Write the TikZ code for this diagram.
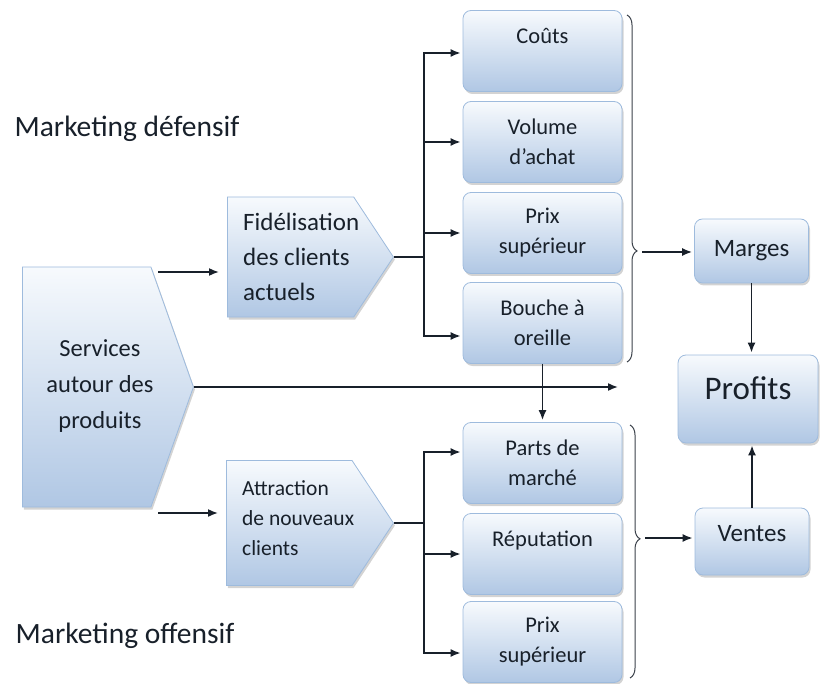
\documentclass[tikz,border=0pt]{standalone}
\usepackage{fontspec}
\setmainfont{Carlito}
\usetikzlibrary{arrows.meta,positioning,shapes.symbols,shadows,decorations.pathreplacing}

\definecolor{boxedge}{RGB}{158,187,221}
\definecolor{boxtop}{RGB}{247,250,253}
\definecolor{boxbot}{RGB}{176,199,228}
\definecolor{inktext}{RGB}{24,32,42}

\tikzset{
  shadebox/.style={draw=boxedge, line width=0.8pt, top color=boxtop, bottom color=boxbot,
    drop shadow={shadow xshift=1.5pt, shadow yshift=-2.5pt, fill=black!50, opacity=0.35}},
  itembox/.style={shadebox, rounded corners=8pt, minimum width=159pt, minimum height=81pt,
    inner sep=1pt, align=center, text=inktext, font=\fontsize{22.5}{30}\selectfont},
  resbox/.style={shadebox, rounded corners=8pt, minimum width=114pt, minimum height=64pt,
    text=inktext, font=\fontsize{25}{30}\selectfont},
  pentbox/.style={shadebox, signal, signal to=east, anchor=west, inner sep=0pt},
  penttext/.style={text=inktext, align=left, inner sep=0pt, anchor=west},
  mktlabel/.style={text=inktext, font=\fontsize{29.5}{34}\selectfont},
  flow/.style={line width=1.6pt, draw=inktext, shorten >=2pt, -{Latex[length=10pt,width=8pt]}},
  link/.style={line width=1.6pt, draw=inktext},
  grouping/.style={line width=1pt, draw=inktext!85, decorate, decoration={brace, amplitude=10pt}}
}

\begin{document}
\begin{tikzpicture}[x=1pt,y=-1pt]
  \useasboundingbox (0,0) rectangle (821,684);

  % labels
  \node[mktlabel] (defens) at (127,129) {Marketing défensif};
  \node[mktlabel] (offens) at (125,636) {Marketing offensif};

  % left side
  \node[pentbox, minimum width=171pt, minimum height=240pt, signal pointer angle=141] (serv) at (22,387) {};
  \node[penttext, align=center, anchor=center, font=\fontsize{24.5}{36}\selectfont] (servtxt) at (100,386) {Services\\autour des\\produits};

  \node[pentbox, minimum width=166pt, minimum height=120pt, signal pointer angle=113] (fidel) at (227,257) {};
  \node[penttext, font=\fontsize{25}{35}\selectfont, right=16pt of fidel.west] (fideltxt) {Fidélisation\\des clients\\actuels};

  \node[pentbox, minimum width=167pt, minimum height=125pt, signal pointer angle=113] (attr) at (226,523) {};
  \node[penttext, font=\fontsize{21.5}{30}\selectfont, right=16pt of attr.west, yshift=5pt] (attrtxt) {Attraction\\de nouveaux\\clients};

  % middle column
  \node[itembox] (couts)  at (542.5,51)  {Coûts\\~};
  \node[itembox] (volume) at (542.5,142) {Volume\\d’achat};
  \node[itembox] (prixa)  at (542.5,233) {Prix\\supérieur};
  \node[itembox] (bouche) at (542.5,323) {Bouche à\\oreille};
  \node[itembox] (parts)  at (542.5,463) {Parts de\\marché};
  \node[itembox] (reput)  at (542.5,554) {Réputation\\~};
  \node[itembox] (prixb)  at (542.5,642) {Prix\\supérieur};

  % right column
  \node[resbox] (marges) at (751.5,251) {Marges};
  \node[resbox, minimum width=140pt, minimum height=88pt, font=\fontsize{33}{36}\selectfont,
        text height=21pt, text depth=20pt] (profits) at (748,399) {Profits};
  \node[resbox, minimum height=67pt, text depth=16pt] (ventes) at (752,541.5) {Ventes};

  % connectors
  \coordinate (srvtop) at (158,272);
  \coordinate (srvbot) at (158,513);
  \coordinate (gap) at (620,387);
  \draw[flow, shorten >=8pt] (srvtop) -- (srvtop -| fidel.west);
  \draw[flow, shorten >=8pt] (srvbot) -- (srvbot -| attr.west);
  \draw[flow] (serv.east) -- (gap);

  \draw[link] (fidel.east) -- ++(30,0) coordinate (trunka);
  \draw[flow] (trunka) |- ([yshift=-2pt]couts.west);
  \draw[flow] (trunka) |- (volume.west);
  \draw[flow] (trunka) |- (prixa.west);
  \draw[flow] (trunka) |- ([yshift=-13pt]bouche.west);

  \draw[link] (attr.east) -- ++(30,0) coordinate (trunkb);
  \draw[flow] (trunkb) |- ([yshift=11pt]parts.west);
  \draw[flow] (trunkb) |- (reput.west);
  \draw[flow] (trunkb) |- ([yshift=-11pt]prixb.west);

  \draw[flow] (bouche.south) -- (parts.north);

  \draw[grouping, decoration={aspect=0.68}] (627,15) -- (627,362);
  \draw[grouping, decoration={aspect=0.45}] (630,425) -- (630,678);
  \coordinate (bracea) at (642,252);
  \coordinate (braceb) at (645,538);
  \draw[flow] (bracea) -- (bracea -| marges.west);
  \draw[flow] (braceb) -- (braceb -| ventes.west);

  \draw[flow] (marges.south) -- (marges.south |- profits.north);
  \draw[flow] (ventes.north) -- (ventes.north |- profits.south);
\end{tikzpicture}
\end{document}
